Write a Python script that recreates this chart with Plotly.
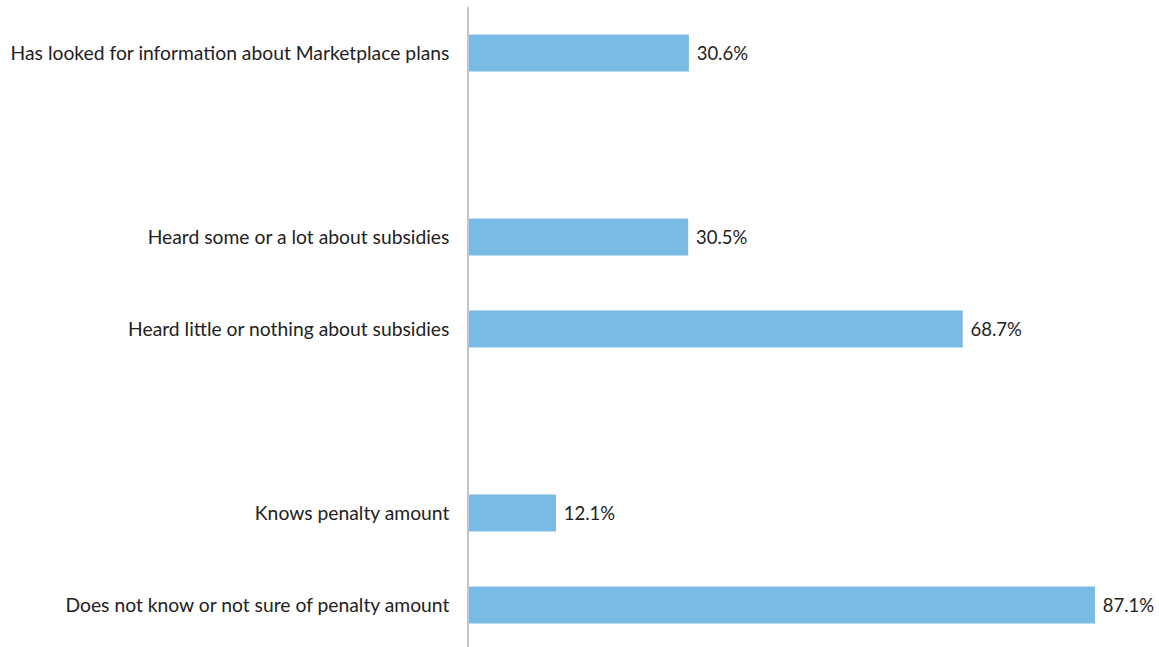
import plotly.graph_objects as go

# Survey responses (percent of respondents)
categories = [
    "Has looked for information about Marketplace plans",
    "Heard some or a lot about subsidies",
    "Heard little or nothing about subsidies",
    "Knows penalty amount",
    "Does not know or not sure of penalty amount",
]
values = [30.6, 30.5, 68.7, 12.1, 87.1]

# Blank spacer rows separate the three question groups
spacer_a, spacer_b = " ", "  "
row_order = [categories[0], spacer_a, categories[1], categories[2],
             spacer_b, categories[3], categories[4]]

fig = go.Figure(
    go.Bar(
        x=values,
        y=categories,
        orientation="h",
        marker=dict(color="#78bce6", line=dict(width=0)),
        width=0.4,
        text=[f"{v:.1f}%" for v in values],
        texttemplate=" %{text}",
        textposition="outside",
        textfont=dict(family="Lato, sans-serif", size=18.5, color="#222222"),
        cliponaxis=False,
        hoverinfo="skip",
    )
)

fig.update_layout(
    width=1159,
    height=647,
    margin=dict(l=469, r=0, t=7, b=0),
    paper_bgcolor="white",
    plot_bgcolor="white",
    showlegend=False,
    font=dict(family="Lato, sans-serif", size=18, color="#222222"),
    xaxis=dict(
        range=[0, 690 / 7.187],
        visible=False,
        showgrid=False,
        zeroline=False,
    ),
    yaxis=dict(
        type="category",
        categoryorder="array",
        categoryarray=row_order,
        range=[-0.5 + 640 / 92, -0.5],
        showline=True,
        linecolor="#c4c4c4",
        linewidth=1.5,
        showgrid=False,
        zeroline=False,
        ticks="",
        ticklabelstandoff=14,
        tickfont=dict(family="Lato, sans-serif", size=19.3, color="#222222"),
    ),
)

fig.write_html("out.html")
